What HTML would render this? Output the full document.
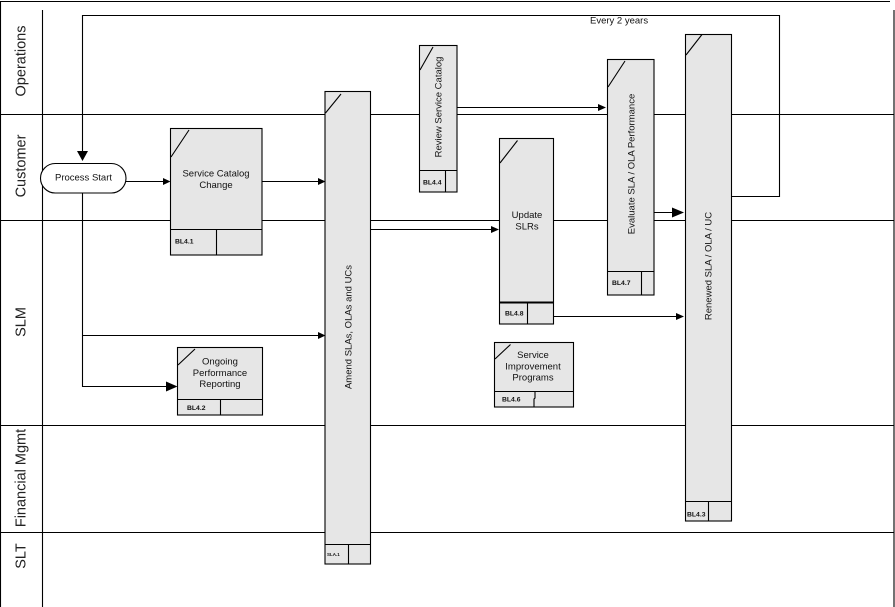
<!DOCTYPE html>
<html><head><meta charset="utf-8"><style>
html,body{margin:0;padding:0;background:#fff;}
svg{display:block;}
text{font-family:"Liberation Sans",Arial,sans-serif;fill:#111;}
.lane{font-size:14.5px;fill:#222;}
.t{font-size:9.5px;}
.bl{font-size:6.8px;font-weight:bold;}
</style></head><body>
<svg width="895" height="607" viewBox="0 0 895 607" xmlns="http://www.w3.org/2000/svg">
<g stroke="#000" stroke-width="1.1" fill="none">
  <!-- frame -->
  <line x1="0" y1="1.5" x2="890" y2="1.5"/>
  <line x1="0.5" y1="1" x2="0.5" y2="607"/>
  <line x1="42.5" y1="10" x2="42.5" y2="607"/>
  <line x1="894" y1="10" x2="894" y2="607"/>
  <!-- lanes -->
  <line x1="0" y1="114.5" x2="894" y2="114.5"/>
  <line x1="0" y1="220.5" x2="894" y2="220.5"/>
  <line x1="0" y1="425.5" x2="894" y2="425.5"/>
  <line x1="0" y1="532.5" x2="894" y2="532.5"/>
  <!-- loop -->
  <polyline points="82.5,152 82.5,15.5 779.5,15.5 779.5,196.5 731,196.5"/>
  <!-- process start down -->
  <polyline points="82.5,193 82.5,386.5 167,386.5"/>
  <line x1="82.5" y1="335.5" x2="319" y2="335.5"/>
  <!-- connectors -->
  <line x1="126" y1="181.5" x2="164" y2="181.5"/>
  <line x1="262" y1="181.5" x2="319" y2="181.5"/>
  <line x1="370" y1="229.5" x2="492" y2="229.5"/>
  <line x1="457" y1="107.5" x2="599" y2="107.5"/>
  <line x1="654" y1="212.5" x2="673" y2="212.5"/>
  <line x1="554" y1="316.5" x2="677" y2="316.5"/>
</g>
<!-- arrowheads -->
<g fill="#000">
  <polygon points="77,151 88,151 82.5,161"/>
  <polygon points="163,178 163,185 170.5,181.5"/>
  <polygon points="318,178 318,185 325.5,181.5"/>
  <polygon points="318,332 318,339 325.5,335.5"/>
  <polygon points="166,381.5 166,391.5 177.5,386.5"/>
  <polygon points="491,226 491,233 499,229.5"/>
  <polygon points="598,104 598,111 606,107.5"/>
  <polygon points="672,207.5 672,217.5 684,212.5"/>
  <polygon points="676,313 676,320 684,316.5"/>
</g>
<!-- boxes -->
<g stroke="#000" stroke-width="1.1" fill="#e6e6e6">
  <rect x="40.5" y="163.5" width="85.5" height="29.5" rx="14.75" fill="#fff"/>
  <!-- Service Catalog Change -->
  <rect x="170.5" y="128.5" width="91.5" height="126.5"/>
  <!-- Amend -->
  <rect x="325" y="91.5" width="45.5" height="472.5"/>
  <!-- Review -->
  <rect x="419.5" y="45.5" width="37.5" height="146.5"/>
  <!-- Update -->
  <rect x="499.5" y="138.5" width="54" height="185.5"/>
  <!-- Evaluate -->
  <rect x="607.5" y="59.5" width="46.5" height="235.5"/>
  <!-- Renewed -->
  <rect x="685.5" y="34.5" width="46" height="486.5"/>
  <!-- Ongoing -->
  <rect x="177.5" y="347.5" width="85" height="67.5"/>
  <!-- SIP -->
  <rect x="494.5" y="342.5" width="79" height="64.5"/>
</g>
<g stroke="#000" stroke-width="1.1" fill="none">
  <!-- dividers -->
  <line x1="170.5" y1="229.5" x2="262" y2="229.5"/><line x1="216.5" y1="229.5" x2="216.5" y2="255"/>
  <line x1="325" y1="544.5" x2="370.5" y2="544.5"/><line x1="348.5" y1="544.5" x2="348.5" y2="564"/>
  <line x1="419.5" y1="170.5" x2="457" y2="170.5"/><line x1="445.5" y1="170.5" x2="445.5" y2="192"/>
  <line x1="499.5" y1="302.5" x2="553.5" y2="302.5" stroke-width="2"/><line x1="527.5" y1="302.5" x2="527.5" y2="324"/>
  <line x1="607.5" y1="271.5" x2="654" y2="271.5"/><line x1="641.5" y1="271.5" x2="641.5" y2="295"/>
  <line x1="685.5" y1="501.5" x2="731.5" y2="501.5"/><line x1="708.5" y1="501.5" x2="708.5" y2="521"/>
  <line x1="177.5" y1="399.5" x2="262.5" y2="399.5"/><line x1="220.5" y1="399.5" x2="220.5" y2="415"/>
  <line x1="494.5" y1="391.5" x2="573.5" y2="391.5"/><polyline points="535,391.5 535,398 534,399 534,407"/>
  <!-- diagonals -->
  <line x1="171" y1="157" x2="189" y2="130"/>
  <line x1="325.5" y1="113" x2="341" y2="94"/>
  <line x1="420" y1="70" x2="433" y2="47"/>
  <line x1="500" y1="163" x2="517.5" y2="140.5"/>
  <line x1="608" y1="87" x2="625" y2="61"/>
  <line x1="686" y1="55" x2="702" y2="34.5"/>
  <line x1="178" y1="365" x2="195" y2="349"/>
  <line x1="495" y1="359" x2="510.5" y2="344.5"/>
</g>
<!-- lane labels -->
<text class="lane" text-anchor="middle" transform="translate(25.5,61) rotate(-90)">Operations</text>
<text class="lane" text-anchor="middle" transform="translate(25.5,166) rotate(-90)">Customer</text>
<text class="lane" text-anchor="middle" transform="translate(25.5,322) rotate(-90)">SLM</text>
<text class="lane" text-anchor="middle" transform="translate(25.5,478) rotate(-90)">Financial Mgmt</text>
<text class="lane" text-anchor="middle" transform="translate(25.5,556) rotate(-90)">SLT</text>
<!-- box texts -->
<text class="t" x="83.5" y="180.5" text-anchor="middle">Process Start</text>
<text class="t" x="216" y="176.5" text-anchor="middle">Service Catalog</text>
<text class="t" x="216" y="188" text-anchor="middle">Change</text>
<text class="t" x="220" y="364.5" text-anchor="middle">Ongoing</text>
<text class="t" x="220" y="376" text-anchor="middle">Performance</text>
<text class="t" x="220" y="387" text-anchor="middle">Reporting</text>
<text class="t" x="533" y="358" text-anchor="middle">Service</text>
<text class="t" x="533" y="369.5" text-anchor="middle">Improvement</text>
<text class="t" x="533" y="380.5" text-anchor="middle">Programs</text>
<text class="t" x="527" y="218" text-anchor="middle">Update</text>
<text class="t" x="527" y="229.5" text-anchor="middle">SLRs</text>
<text class="t" x="590" y="23.5">Every 2 years</text>
<text class="t" text-anchor="middle" transform="translate(351.5,327) rotate(-90)">Amend SLAs, OLAs and UCs</text>
<text class="t" text-anchor="middle" transform="translate(441.5,107) rotate(-90)">Review Service Catalog</text>
<text class="t" text-anchor="middle" transform="translate(634.5,164) rotate(-90)">Evaluate SLA / OLA Performance</text>
<text class="t" text-anchor="middle" transform="translate(711.5,266) rotate(-90)">Renewed SLA / OLA / UC</text>
<!-- BL labels -->
<text class="bl" x="175" y="243.5">BL4.1</text>
<text class="bl" x="187" y="410">BL4.2</text>
<text class="bl" x="423" y="184.5">BL4.4</text>
<text class="bl" x="505" y="315.5">BL4.8</text>
<text class="bl" x="502" y="401.5">BL4.6</text>
<text class="bl" x="612" y="285">BL4.7</text>
<text class="bl" x="687" y="516.5">BL4.3</text>
<text class="bl" x="327" y="556" style="font-size:4.5px">SLA.1</text>
</svg>
</body></html>
